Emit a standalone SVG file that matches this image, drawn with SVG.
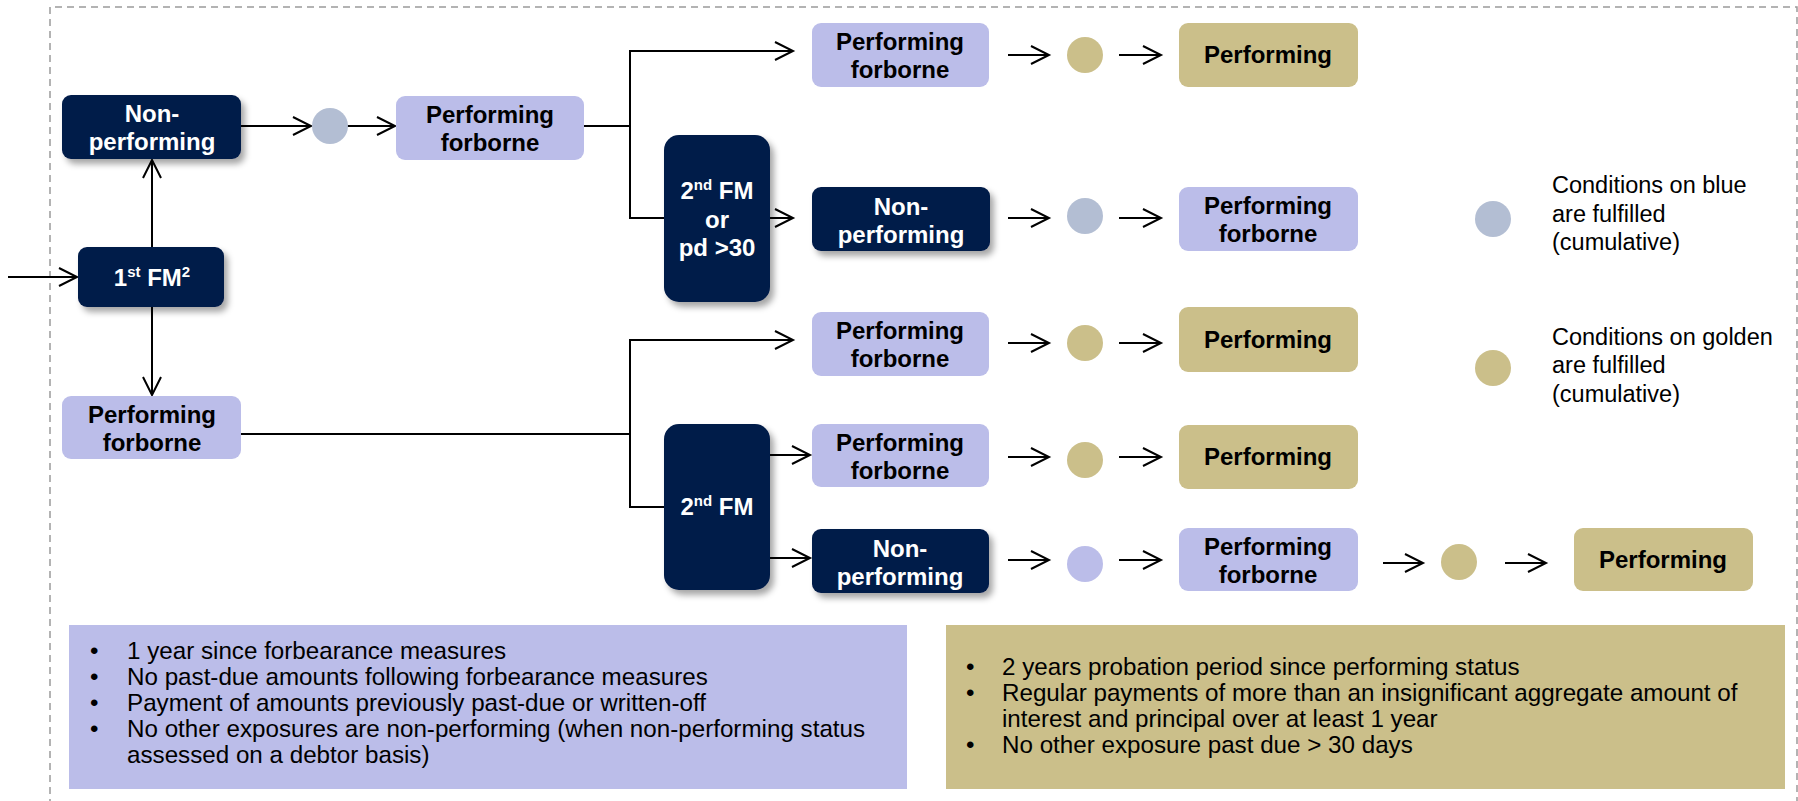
<svg xmlns="http://www.w3.org/2000/svg" width="1798" height="801" viewBox="0 0 1798 801">
<style>
.navy{fill:#021b48}
.lav{fill:#bbbde9}
.gold{fill:#cbbf8a}
.bt{font-family:"Liberation Sans",Arial,sans-serif;font-weight:bold;font-size:24px;text-anchor:middle}
.w{fill:#ffffff}
.k{fill:#000000}
.rt{font-family:"Liberation Sans",Arial,sans-serif;font-size:23.5px;fill:#000000}
.bl{font-family:"Liberation Sans",Arial,sans-serif;font-size:24.2px;fill:#000000}
.con{fill:none;stroke:#000;stroke-width:2}
.arr{marker-end:url(#ah)}
</style>
<defs>
<marker id="ah" markerUnits="userSpaceOnUse" markerWidth="22" markerHeight="22" refX="19" refY="10" orient="auto">
<path d="M1,1 L19,10 L1,19" fill="none" stroke="#000" stroke-width="2"/>
</marker>
<filter id="sh" x="-20%" y="-20%" width="150%" height="150%">
<feDropShadow dx="4" dy="5" stdDeviation="3" flood-color="#000" flood-opacity="0.35"/>
</filter>
</defs>
<rect width="1798" height="801" fill="#ffffff"/>
<path d="M50,830 V7 H1797 V830" fill="none" stroke="#9a9a9a" stroke-width="1.5" stroke-dasharray="7 5"/>

<g id="connectors">
<path class="con arr" d="M8,277 H77"/>
<path class="con arr" d="M152,247 V160"/>
<path class="con arr" d="M152,307 V395"/>
<path class="con arr" d="M241,126 H311"/>
<path class="con arr" d="M347,126 H395"/>
<path class="con" d="M584,126 H630"/>
<path class="con arr" d="M630,126 V51 H793"/>
<path class="con" d="M630,126 V218 H664"/>
<path class="con arr" d="M770,218 H793"/>
<path class="con" d="M241,434 H630"/>
<path class="con arr" d="M630,434 V340 H793"/>
<path class="con" d="M630,434 V507 H664"/>
<path class="con arr" d="M770,455 H810"/>
<path class="con arr" d="M770,558 H810"/>
<path class="con arr" d="M1008,55 H1049"/>
<path class="con arr" d="M1119,55 H1161"/>
<path class="con arr" d="M1008,218 H1049"/>
<path class="con arr" d="M1119,218 H1161"/>
<path class="con arr" d="M1008,343 H1049"/>
<path class="con arr" d="M1119,343 H1161"/>
<path class="con arr" d="M1008,457 H1049"/>
<path class="con arr" d="M1119,457 H1161"/>
<path class="con arr" d="M1008,560 H1049"/>
<path class="con arr" d="M1119,560 H1161"/>
<path class="con arr" d="M1383,563 H1423"/>
<path class="con arr" d="M1505,563 H1546"/>
</g>

<g id="np-left">
<rect class="navy" x="62" y="95" width="179" height="64" rx="9" filter="url(#sh)"/>
<text class="bt w" x="152" y="122">Non-</text>
<text class="bt w" x="152" y="150">performing</text>
</g>
<g id="fm1">
<rect class="navy" x="78" y="247" width="146" height="60" rx="9" filter="url(#sh)"/>
<text class="bt w" x="152" y="286">1<tspan font-size="15" dy="-9">st</tspan><tspan dy="9"> FM</tspan><tspan font-size="15" dy="-9">2</tspan></text>
</g>
<g id="pf-left">
<rect class="lav" x="62" y="396" width="179" height="63" rx="9"/>
<text class="bt k" x="152" y="423">Performing</text>
<text class="bt k" x="152" y="451">forborne</text>
</g>
<g id="c-top">
<circle cx="330" cy="126" r="18" fill="#b3bed3"/>
</g>
<g id="pf-top">
<rect class="lav" x="396" y="96" width="188" height="64" rx="9"/>
<text class="bt k" x="490" y="123">Performing</text>
<text class="bt k" x="490" y="151">forborne</text>
</g>
<g id="fm2-pd">
<rect class="navy" x="664" y="135" width="106" height="167" rx="15" filter="url(#sh)"/>
<text class="bt w" x="717" y="199">2<tspan font-size="15" dy="-9">nd</tspan><tspan dy="9"> FM</tspan></text>
<text class="bt w" x="717" y="228">or</text>
<text class="bt w" x="717" y="256">pd &gt;30</text>
</g>
<g id="fm2">
<rect class="navy" x="664" y="424" width="106" height="166" rx="15" filter="url(#sh)"/>
<text class="bt w" x="717" y="515">2<tspan font-size="15" dy="-9">nd</tspan><tspan dy="9"> FM</tspan></text>
</g>

<g id="r1-pf">
<rect class="lav" x="812" y="23" width="177" height="64" rx="9"/>
<text class="bt k" x="900" y="50">Performing</text>
<text class="bt k" x="900" y="78">forborne</text>
</g>
<g id="r1-c"><circle cx="1085" cy="55" r="18" class="gold"/></g>
<g id="r1-p">
<rect class="gold" x="1179" y="23" width="179" height="64" rx="9"/>
<text class="bt k" x="1268" y="63">Performing</text>
</g>

<g id="r2-np">
<rect class="navy" x="812" y="187" width="178" height="64" rx="9" filter="url(#sh)"/>
<text class="bt w" x="901" y="215">Non-</text>
<text class="bt w" x="901" y="243">performing</text>
</g>
<g id="r2-c"><circle cx="1085" cy="216" r="18" fill="#b3bed3"/></g>
<g id="r2-pf">
<rect class="lav" x="1179" y="187" width="179" height="64" rx="9"/>
<text class="bt k" x="1268" y="214">Performing</text>
<text class="bt k" x="1268" y="242">forborne</text>
</g>

<g id="r3-pf">
<rect class="lav" x="812" y="312" width="177" height="64" rx="9"/>
<text class="bt k" x="900" y="339">Performing</text>
<text class="bt k" x="900" y="367">forborne</text>
</g>
<g id="r3-c"><circle cx="1085" cy="343" r="18" class="gold"/></g>
<g id="r3-p">
<rect class="gold" x="1179" y="307" width="179" height="65" rx="9"/>
<text class="bt k" x="1268" y="348">Performing</text>
</g>

<g id="r4-pf">
<rect class="lav" x="812" y="424" width="177" height="63" rx="9"/>
<text class="bt k" x="900" y="451">Performing</text>
<text class="bt k" x="900" y="479">forborne</text>
</g>
<g id="r4-c"><circle cx="1085" cy="460" r="18" class="gold"/></g>
<g id="r4-p">
<rect class="gold" x="1179" y="425" width="179" height="64" rx="9"/>
<text class="bt k" x="1268" y="465">Performing</text>
</g>

<g id="r5-np">
<rect class="navy" x="812" y="529" width="177" height="64" rx="9" filter="url(#sh)"/>
<text class="bt w" x="900" y="557">Non-</text>
<text class="bt w" x="900" y="585">performing</text>
</g>
<g id="r5-c"><circle cx="1085" cy="564" r="18" class="lav"/></g>
<g id="r5-pf">
<rect class="lav" x="1179" y="528" width="179" height="63" rx="9"/>
<text class="bt k" x="1268" y="555">Performing</text>
<text class="bt k" x="1268" y="583">forborne</text>
</g>
<g id="r5-c2"><circle cx="1459" cy="562" r="18" class="gold"/></g>
<g id="r5-p">
<rect class="gold" x="1574" y="528" width="179" height="63" rx="9"/>
<text class="bt k" x="1663" y="568">Performing</text>
</g>

<g id="legend-blue">
<circle cx="1493" cy="219" r="18" fill="#b3bed3"/>
<text class="rt" x="1552" y="193">Conditions on blue</text>
<text class="rt" x="1552" y="222">are fulfilled</text>
<text class="rt" x="1552" y="250">(cumulative)</text>
</g>
<g id="legend-gold">
<circle cx="1493" cy="368" r="18" class="gold"/>
<text class="rt" x="1552" y="345">Conditions on golden</text>
<text class="rt" x="1552" y="373">are fulfilled</text>
<text class="rt" x="1552" y="402">(cumulative)</text>
</g>

<g id="conditions-blue">
<rect class="lav" x="69" y="625" width="838" height="164"/>
<text class="bl" x="90" y="659">•</text>
<text class="bl" x="127" y="659">1 year since forbearance measures</text>
<text class="bl" x="90" y="685">•</text>
<text class="bl" x="127" y="685">No past-due amounts following forbearance measures</text>
<text class="bl" x="90" y="711">•</text>
<text class="bl" x="127" y="711">Payment of amounts previously past-due or written-off</text>
<text class="bl" x="90" y="737">•</text>
<text class="bl" x="127" y="737">No other exposures are non-performing (when non-performing status</text>
<text class="bl" x="127" y="763">assessed on a debtor basis)</text>
</g>
<g id="conditions-gold">
<rect class="gold" x="946" y="625" width="839" height="164"/>
<text class="bl" x="966" y="675">•</text>
<text class="bl" x="1002" y="675">2 years probation period since performing status</text>
<text class="bl" x="966" y="701">•</text>
<text class="bl" x="1002" y="701">Regular payments of more than an insignificant aggregate amount of</text>
<text class="bl" x="1002" y="727">interest and principal over at least 1 year</text>
<text class="bl" x="966" y="753">•</text>
<text class="bl" x="1002" y="753">No other exposure past due &gt; 30 days</text>
</g>
</svg>
